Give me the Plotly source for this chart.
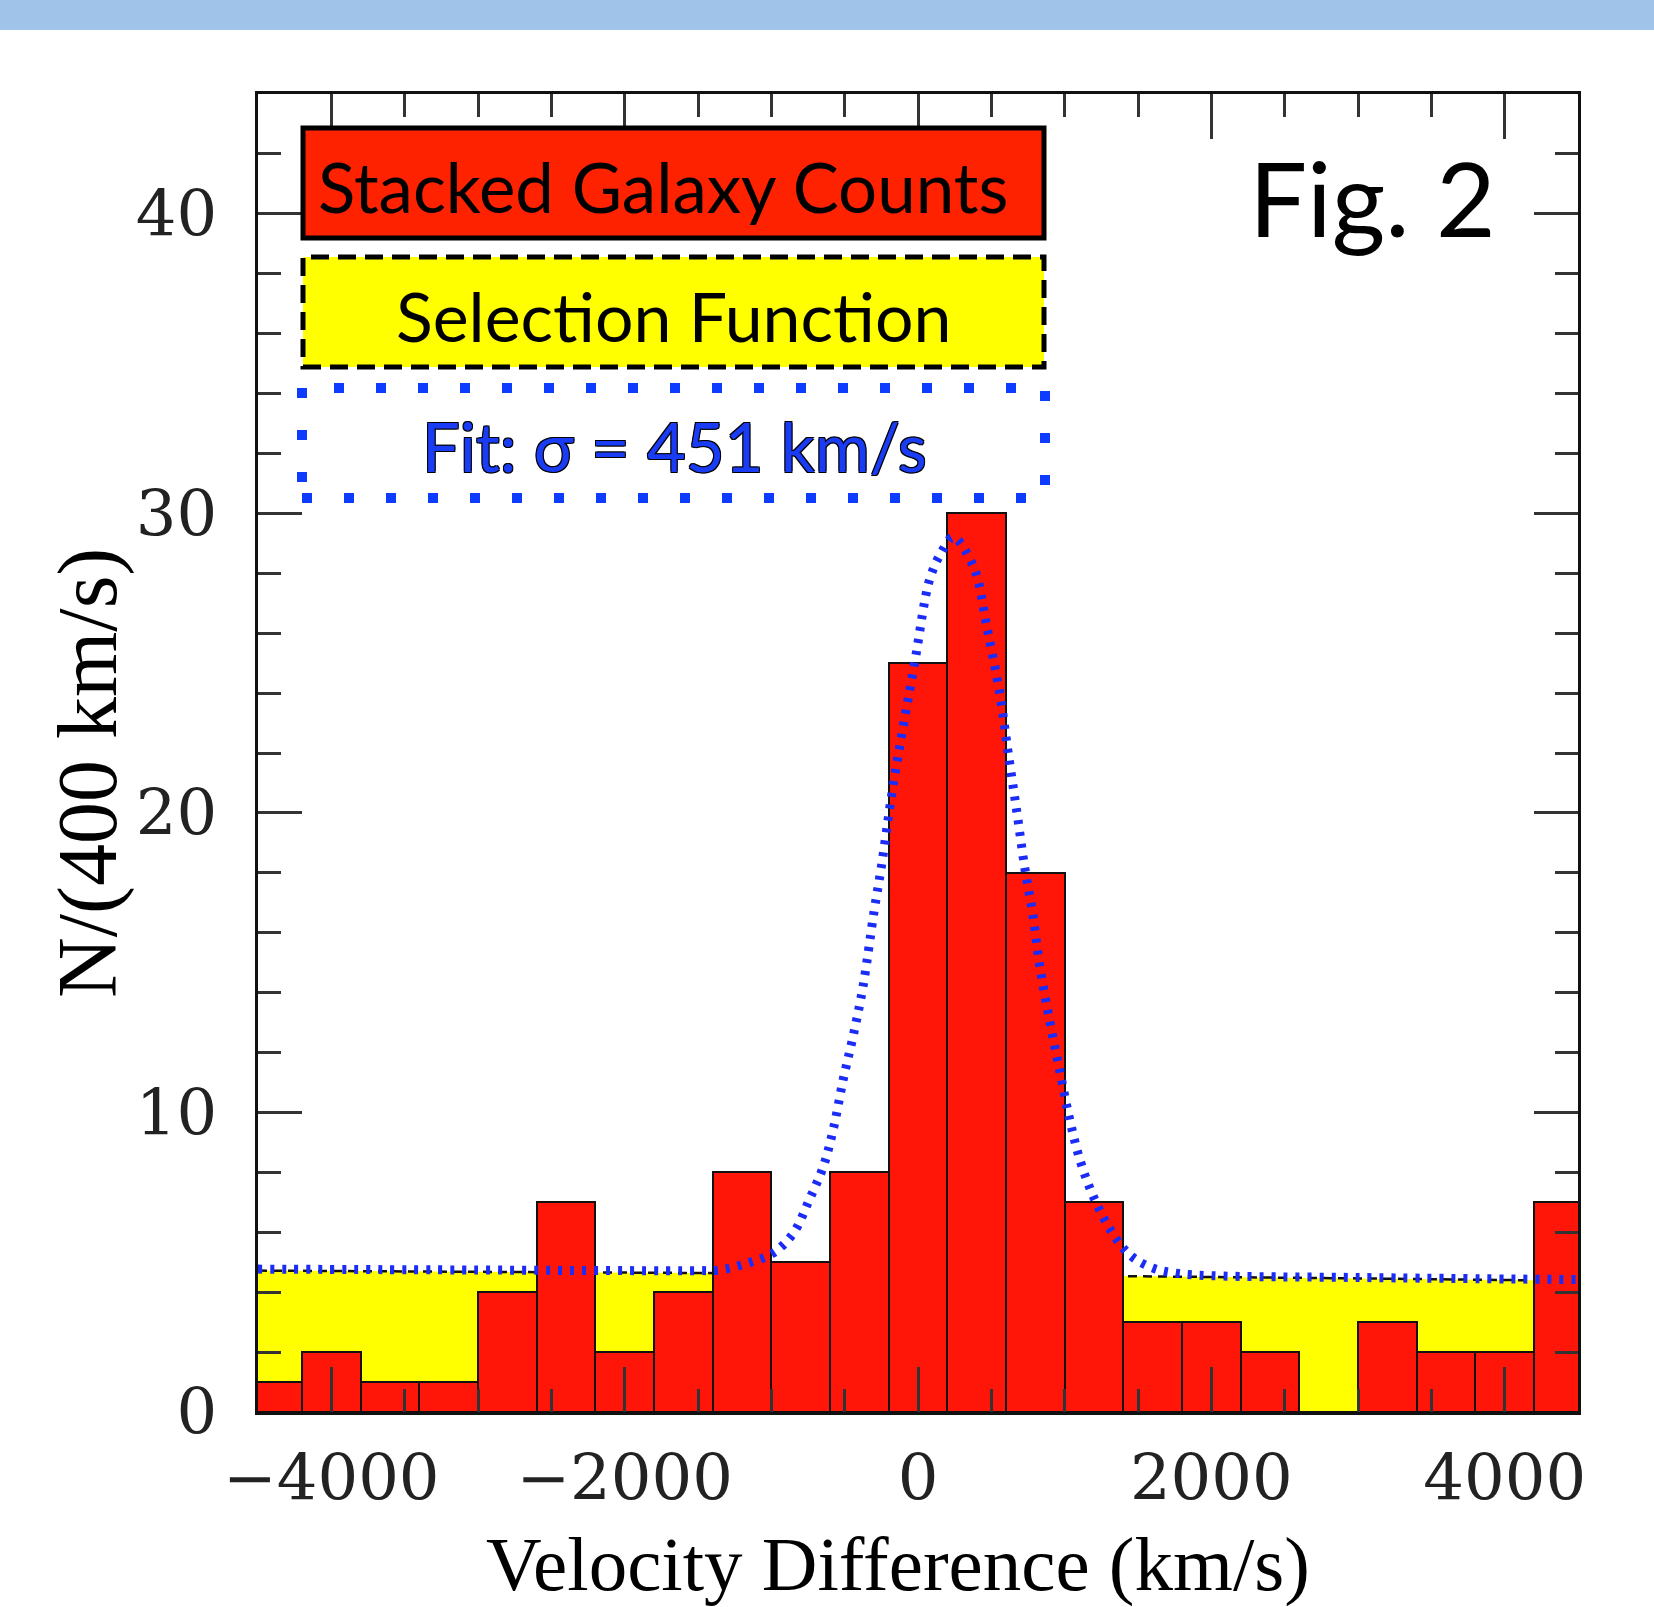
import plotly.graph_objects as go

# ---------------- data ----------------
bin_centers = [-4400, -4000, -3600, -3200, -2800, -2400, -2000, -1600, -1200, -800,
               -400, 0, 400, 800, 1200, 1600, 2000, 2400, 2800, 3200, 3600, 4000, 4400]
counts = [1, 2, 1, 1, 4, 7, 2, 4, 8, 5, 8, 25, 30, 18, 7, 3, 3, 2, 0, 3, 2, 2, 7]
bin_width = 400

sel_x = [-4500, -3000, -1500, 0, 1500, 3000, 4500]
sel_y = [4.72, 4.68, 4.64, 4.58, 4.53, 4.46, 4.38]

fit_x = [-4500, -3000, -2000, -1500, -1350, -1170, -990, -850, -740, -645, -575, -510,
         -440, -375, -300, -250, -170, -20, 80, 160, 240, 380, 470, 560, 615, 675, 730,
         780, 830, 900, 970, 1035, 1105, 1195, 1310, 1445, 1605, 1765, 2000, 3000, 4500]
fit_y = [4.77, 4.74, 4.72, 4.72, 4.74, 4.96, 5.3, 5.97, 7.1, 8.2, 9.5, 11.1,
         12.6, 14.2, 16.7, 18.2, 20.9, 25.1, 27.8, 28.7, 29.2, 28.2, 26.2, 23.9, 22.0, 20.0, 18.1,
         16.7, 14.9, 13.0, 11.3, 9.75, 8.4, 7.2, 6.1, 5.24, 4.8, 4.63, 4.55, 4.49, 4.42]

x_ticks = [-4000, -2000, 0, 2000, 4000]
y_ticks = [0, 10, 20, 30, 40]

label_counts = "Stacked Galaxy Counts"
label_sel = "Selection Function"
label_fit = "Fit: σ = 451 km/s"
fig_label = "Fig. 2"
x_title = "Velocity Difference (km/s)"
y_title = "N/(400 km/s)"

# ---------------- layout geometry (pixels) ----------------
W, H = 1654, 1607
L, R, T, B = 258, 1578, 94, 1412
PW, PH = R - L, B - T


def px(xp):
    return (xp - L) / PW


def py(yp):
    return (B - yp) / PH


fig = go.Figure()

# histogram bars
fig.add_trace(go.Bar(x=bin_centers, y=counts, width=bin_width,
                     marker=dict(color="#ff1608", line=dict(color="#111111", width=2)),
                     showlegend=False))

# fit curve
fig.add_trace(go.Scatter(x=fit_x, y=fit_y, mode="lines",
                         line=dict(color="#1a2cf5", width=9, dash="4px,8px", shape="spline"),
                         hoverinfo="skip", showlegend=False))

tickfont = dict(family="DejaVu Serif", size=64, color="#222222")

fig.update_xaxes(range=[-4500, 4500], tickvals=x_ticks, ticks="inside", ticklen=45,
                 tickwidth=2.5, tickcolor="#333333", showline=True, linewidth=3,
                 linecolor="#111111", mirror="allticks", showgrid=False, zeroline=False,
                 tickfont=tickfont, ticklabelstandoff=8,
                 minor=dict(dtick=500, tick0=0, ticks="inside", ticklen=23,
                            tickwidth=2.5, tickcolor="#333333", showgrid=False))
fig.update_yaxes(range=[0, 44], tickvals=y_ticks, ticks="inside", ticklen=44,
                 tickwidth=2.5, tickcolor="#333333", showline=True, linewidth=3,
                 linecolor="#111111", mirror="allticks", showgrid=False, zeroline=False,
                 tickfont=tickfont, ticklabelstandoff=25,
                 minor=dict(dtick=2, tick0=0, ticks="inside", ticklen=23,
                            tickwidth=2.5, tickcolor="#333333", showgrid=False))

# selection function path (data coordinates, built from arrays)
sel_line = "M " + " L ".join(f"{x},{y}" for x, y in zip(sel_x, sel_y))
sel_area = f"M {sel_x[0]},0 L " + " L ".join(f"{x},{y}" for x, y in zip(sel_x, sel_y)) + f" L {sel_x[-1]},0 Z"

shapes = [
    dict(type="path", xref="x", yref="y", path=sel_area, fillcolor="#ffff00",
         line=dict(width=0), layer="below"),
    dict(type="path", xref="x", yref="y", path=sel_line, fillcolor="rgba(0,0,0,0)",
         line=dict(color="#111111", width=2.5, dash="9px,6px"), layer="below"),
    # top blue band
    dict(type="rect", xref="paper", yref="paper", x0=px(0), x1=px(W), y0=py(30), y1=py(0),
         fillcolor="#a0c3ea", line=dict(width=0), layer="above"),
    # red legend box
    dict(type="rect", xref="paper", yref="paper", x0=px(303), x1=px(1044), y0=py(238), y1=py(128),
         fillcolor="#ff2200", line=dict(color="#000000", width=5), layer="above"),
    # yellow legend box
    dict(type="rect", xref="paper", yref="paper", x0=px(303), x1=px(1044), y0=py(367), y1=py(257),
         fillcolor="#ffff00", line=dict(color="#000000", width=5, dash="18px,9px"), layer="above"),
    # blue dotted box
    dict(type="rect", xref="paper", yref="paper", x0=px(302), x1=px(1045), y0=py(498), y1=py(388),
         fillcolor="rgba(0,0,0,0)", line=dict(color="#0d3bff", width=10, dash="10px,32px"),
         layer="above"),
]

annotations = [
    dict(text=label_counts, xref="paper", yref="paper", x=px(663), y=py(186),
         xanchor="center", yanchor="middle", showarrow=False,
         font=dict(family="Lato", size=69, color="#000000")),
    dict(text=label_sel, xref="paper", yref="paper", x=px(673), y=py(315),
         xanchor="center", yanchor="middle", showarrow=False,
         font=dict(family="Lato", size=68, color="#000000")),
    dict(text=label_fit, xref="paper", yref="paper", x=px(674), y=py(446),
         xanchor="center", yanchor="middle", showarrow=False,
         font=dict(family="Lato", size=67, color="#1a3cf5",
                   shadow="1px 1px 0 #000, -1px -1px 0 #000, 1px -1px 0 #000, -1px 1px 0 #000")),
    dict(text=fig_label, xref="paper", yref="paper", x=px(1372), y=py(197),
         xanchor="center", yanchor="middle", showarrow=False,
         font=dict(family="Lato", size=103, color="#000000")),
    dict(text=x_title, xref="paper", yref="paper", x=px(898), y=py(1564),
         xanchor="center", yanchor="middle", showarrow=False,
         font=dict(family="Liberation Serif", size=77, color="#000000")),
    dict(text=y_title, xref="paper", yref="paper", x=px(88), y=py(773),
         xanchor="center", yanchor="middle", showarrow=False, textangle=-90,
         font=dict(family="Liberation Serif", size=84, color="#000000")),
]

fig.update_layout(width=W, height=H, margin=dict(l=L, r=W - R, t=T, b=H - B, pad=0),
                  paper_bgcolor="white", plot_bgcolor="white", bargap=0,
                  shapes=shapes, annotations=annotations, showlegend=False)

fig.write_html("out.html")
